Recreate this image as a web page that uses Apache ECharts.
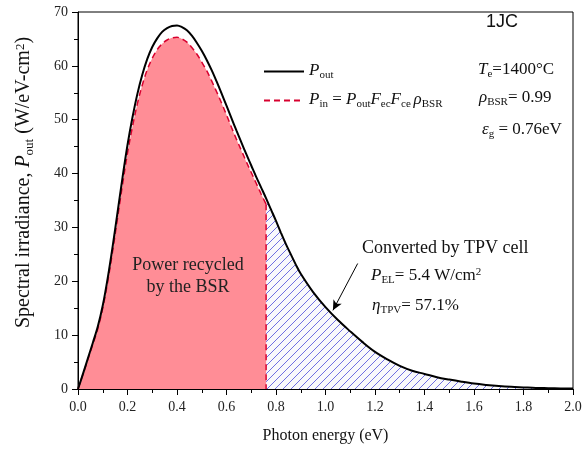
<!DOCTYPE html>
<html><head><meta charset="utf-8">
<script src="https://cdn.jsdelivr.net/npm/echarts@6/dist/echarts.min.js"></script>
<style>html,body{margin:0;padding:0;background:#fff}#c{width:585px;height:453px}</style>
</head><body><div id="c"></div>
<script>
// ---- data ----
const energy = [0.00,0.02,0.04,0.06,0.08,0.10,0.12,0.14,0.16,0.18,0.20,0.22,0.24,0.26,0.28,0.30,0.32,0.34,0.36,0.38,0.40,0.42,0.44,0.46,0.48,0.50,0.52,0.54,0.56,0.58,0.60,0.62,0.64,0.66,0.68,0.70,0.72,0.74,0.76,0.78,0.80,0.82,0.84,0.86,0.88,0.90,0.95,1.00,1.05,1.10,1.15,1.20,1.25,1.30,1.35,1.40,1.45,1.50,1.55,1.60,1.65,1.70,1.75,1.80,1.85,1.90,1.95,2.00];
const pOut = [0.0,2.8,5.7,8.6,11.6,15.5,20.6,26.5,32.9,39.3,45.3,50.4,54.8,58.4,61.3,63.5,65.1,66.3,67.0,67.4,67.5,67.2,66.6,65.6,64.3,62.8,61.1,59.2,57.1,54.9,52.6,50.3,48.0,45.8,43.6,41.5,39.4,37.4,35.4,33.3,31.2,29.0,26.9,25.0,23.1,21.4,18.0,15.2,12.8,10.7,8.7,6.9,5.5,4.3,3.4,2.8,2.2,1.75,1.35,1.0,0.75,0.55,0.4,0.3,0.2,0.15,0.1,0.07];
const energyIn = [0.00,0.02,0.04,0.06,0.08,0.10,0.12,0.14,0.16,0.18,0.20,0.22,0.24,0.26,0.28,0.30,0.32,0.34,0.36,0.38,0.40,0.42,0.44,0.46,0.48,0.50,0.52,0.54,0.56,0.58,0.60,0.62,0.64,0.66,0.68,0.70,0.72,0.74,0.76];
const pIn = [0.0,2.7,5.5,8.3,11.2,15.0,19.9,25.6,31.8,38.0,43.8,48.7,53.0,56.5,59.3,61.4,63.0,64.1,64.8,65.2,65.3,65.0,64.4,63.4,62.2,60.7,59.1,57.2,55.2,53.1,50.9,48.6,46.4,44.3,42.2,40.2,38.2,36.2,34.3];
const bandgap = 0.76;
const xTickLabels = ['0.0','0.2','0.4','0.6','0.8','1.0','1.2','1.4','1.6','1.8','2.0'];
const yTickLabels = ['0','10','20','30','40','50','60','70'];
const arrowFrom = [1.13, 23.3];
const arrowTo = [1.03, 14.6];

// ---- helpers ----
const SERIF = 'Liberation Serif';
function richSet(size, color) {
  color = color || '#111';
  const pad = Math.round(size * 0.38);
  const small = Math.round(size * 0.64);
  const base = {fontFamily: SERIF, fontSize: size, fontWeight: 'normal', color, lineHeight: size + 2, padding: [0, 0, pad, 0], verticalAlign: 'top'};
  return {
    n: base,
    i: Object.assign({}, base, {fontStyle: 'italic'}),
    s: {fontFamily: SERIF, fontSize: small, fontWeight: 'normal', color, lineHeight: small, verticalAlign: 'bottom'},
    sup: {fontFamily: SERIF, fontSize: small, fontWeight: 'normal', color, lineHeight: small, verticalAlign: 'top'}
  };
}
function makeHatch() {
  const c = document.createElement('canvas');
  c.width = 8; c.height = 8;
  const g = c.getContext('2d');
  g.fillStyle = '#f9f9fc'; g.fillRect(0, 0, 8, 8);
  g.fillStyle = '#7070e2';
  for (let k = 0; k < 8; k++) g.fillRect(k, 7 - k, 1, 1);
  return c;
}

const outPairs = energy.map((e, k) => [e, pOut[k]]);
const hatchPairs = outPairs.filter(p => p[0] >= bandgap);
const inPairs = energyIn.map((e, k) => [e, pIn[k]]);
const edgePairs = [[bandgap, pIn[pIn.length - 1]], [bandgap, 0]];

const chart = echarts.init(document.getElementById('c'), null, {renderer: 'canvas'});
const plainTitle = (size) => ({fontFamily: SERIF, fontSize: size, fontWeight: 'normal', color: '#111'});
const option = {
  animation: false,
  backgroundColor: '#fff',
  grid: {left: 78, right: 12, top: 12, bottom: 64, show: true, borderColor: '#000', borderWidth: 1, backgroundColor: 'transparent'},
  xAxis: {
    type: 'value', min: 0, max: 2, interval: 0.2,
    name: 'Photon energy (eV)', nameLocation: 'middle', nameGap: 39,
    nameTextStyle: {fontFamily: SERIF, fontSize: 16, color: '#111'},
    axisLine: {lineStyle: {color: '#000', width: 1}},
    axisTick: {inside: false, length: 6, lineStyle: {color: '#000'}},
    minorTick: {show: true, splitNumber: 2, length: 4, lineStyle: {color: '#000'}},
    axisLabel: {fontFamily: SERIF, fontSize: 14, color: '#222', margin: 11,
      formatter: v => xTickLabels[Math.round(v / 0.2)]},
    splitLine: {show: false}
  },
  yAxis: {
    type: 'value', min: 0, max: 70, interval: 10,
    name: '{n|Spectral irradiance, }{i|P}{s|out}{n| (W/eV-cm}{sup|2}{n|)}',
    nameLocation: 'middle', nameGap: 42,
    nameTextStyle: {rich: richSet(20, '#111'), padding: [0, 0, 0, 36]},
    axisLine: {show: true, lineStyle: {color: '#000', width: 1}},
    axisTick: {inside: false, length: 6, lineStyle: {color: '#000'}},
    minorTick: {show: true, splitNumber: 2, length: 4, lineStyle: {color: '#000'}},
    axisLabel: {fontFamily: SERIF, fontSize: 14, color: '#222', margin: 10,
      formatter: v => yTickLabels[Math.round(v / 10)]},
    splitLine: {show: false}
  },
  legend: {
    orient: 'vertical', left: 263, top: 62, padding: 0, itemWidth: 40, itemHeight: 14, itemGap: 6,
    data: ['Pout', 'Pin'],
    itemStyle: {opacity: 0},
    formatter: name => name === 'Pout'
      ? '{i|P}{s|out}'
      : '{i|P}{s|in}{n| = }{i|P}{s|out}{i|F}{s|ec}{i|F}{s|ce }{i|ρ}{s|BSR}',
    textStyle: {rich: richSet(17, '#111')}
  },
  title: [
    {text: '1JC', left: 486, top: 13, padding: 0, textStyle: {fontFamily: 'Liberation Sans', fontSize: 18, fontWeight: 'normal', color: '#111'}},
    {text: '{i|T}{s|e}{n|=1400°C}', left: 478, top: 61, padding: 0, textStyle: {rich: richSet(17)}},
    {text: '{i|ρ}{s|BSR}{n|= 0.99}', left: 479, top: 89, padding: 0, textStyle: {rich: richSet(17)}},
    {text: '{i|ε}{s|g}{n| = 0.76eV}', left: 482, top: 121, padding: 0, textStyle: {rich: richSet(17)}},
    {text: 'Converted by TPV cell', left: 362, top: 239, padding: 0, textStyle: plainTitle(18)},
    {text: '{i|P}{s|EL}{n|= 5.4 W/cm}{sup|2}', left: 371, top: 267, padding: 0, textStyle: {rich: richSet(17)}},
    {text: '{i|η}{s|TPV}{n|= 57.1%}', left: 372, top: 297, padding: 0, textStyle: {rich: richSet(17)}}
  ],
  graphic: [
    {type: 'text', x: 188, y: 254, z: 100, silent: true,
      style: {text: 'Power recycled\nby the BSR', font: '18px "Liberation Serif"', fill: '#222', textAlign: 'center', textVerticalAlign: 'top', lineHeight: 22}}
  ],
  series: [
    {name: 'hatch', type: 'line', data: hatchPairs, symbol: 'none', silent: true, z: 1, smooth: 0.35,
      lineStyle: {width: 0}, areaStyle: {color: {image: makeHatch(), repeat: 'repeat'}, opacity: 1}},
    {name: 'Pin', type: 'line', data: inPairs, symbol: 'none', silent: true, z: 2, smooth: 0.35,
      lineStyle: {color: '#d8002e', width: 1.5, type: [6, 4]},
      itemStyle: {color: '#d8002e'},
      areaStyle: {color: '#ff8d96', opacity: 1}},
    {name: 'PinEdge', type: 'line', data: edgePairs, symbol: 'none', silent: true, z: 2,
      lineStyle: {color: '#d8002e', width: 1.5, type: [6, 4]}},
    {name: 'Pout', type: 'line', data: outPairs, symbol: 'none', silent: true, z: 3, smooth: 0.35,
      lineStyle: {color: '#000', width: 2}, itemStyle: {color: '#000'},
      markLine: {silent: true, symbol: ['none', 'arrow'], symbolSize: [7, 10],
        lineStyle: {color: '#000', width: 1, type: 'solid'}, label: {show: false},
        data: [[{coord: arrowFrom}, {coord: arrowTo}]]}}
  ]
};
chart.setOption(option);
</script></body></html>
